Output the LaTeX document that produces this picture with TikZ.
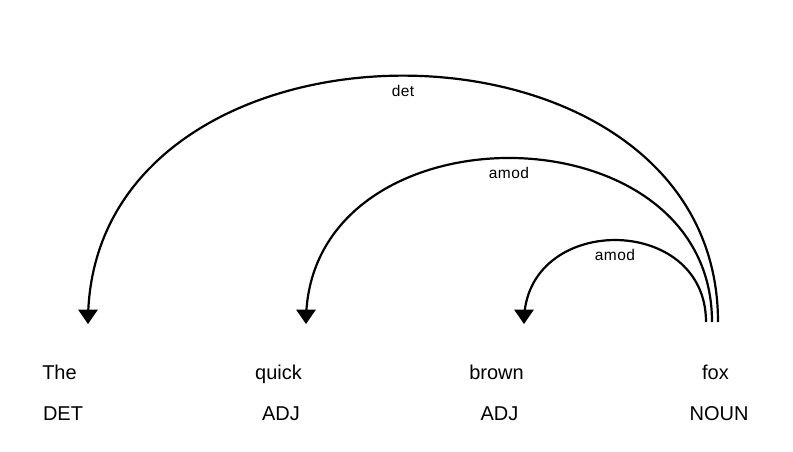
\documentclass[tikz,border=0pt]{standalone}
\usepackage{fontspec}
\setmainfont{Liberation Sans}
\begin{document}
\begin{tikzpicture}[x=1pt,y=-1pt,
  word/.style={anchor=base,inner sep=0pt,font=\fontsize{20}{22}\selectfont},
  tag/.style={anchor=base,inner sep=0pt,font=\fontsize{20}{22}\selectfont},
  arc/.style={line width=2.2pt},
  lbl/.style={anchor=base,inner sep=0pt,yshift=-20.5pt,font=\fontsize{15.5}{17}\selectfont\addfontfeature{LetterSpace=3}},
  head/.style={fill=black,draw=none}]
\useasboundingbox (0,0) rectangle (793,452);
% words
\node[word] (w1) at (59.5,379.5) {The};
\node[word] (w2) at (278.5,379.5) {quick};
\node[word] (w3) at (496.5,379.5) {brown};
\node[word] (w4) at (715.5,379.5) {fox};
\node[tag] (t1) at (63,420) {DET};
\node[tag] (t2) at (281,420) {ADJ};
\node[tag] (t3) at (499.5,420) {ADJ};
\node[tag] (t4) at (719,420) {NOUN};
% arc ends
\coordinate (s1) at (718,322);
\coordinate (s2) at (712,322);
\coordinate (s3) at (706,322);
\coordinate (e1) at (88,322);
\coordinate (e2) at (306,322);
\coordinate (e3) at (524,322);
% arcs
\draw[arc] (s1) .. controls (718,-6.5) and (88,-6.5) .. node[lbl] {det} (e1);
\draw[arc] (s2) .. controls (712,103.3) and (306,103.3) .. node[lbl] {amod} (e2);
\draw[arc] (s3) .. controls (706,212.7) and (524,212.7) .. node[lbl] {amod} (e3);
% arrowheads
\foreach \e in {e1,e2,e3}{
  \fill[head] ([yshift=-2pt]\e) -- ([xshift=-10pt,yshift=12.5pt]\e) -- ([xshift=10pt,yshift=12.5pt]\e) -- cycle;
}
\end{tikzpicture}
\end{document}
